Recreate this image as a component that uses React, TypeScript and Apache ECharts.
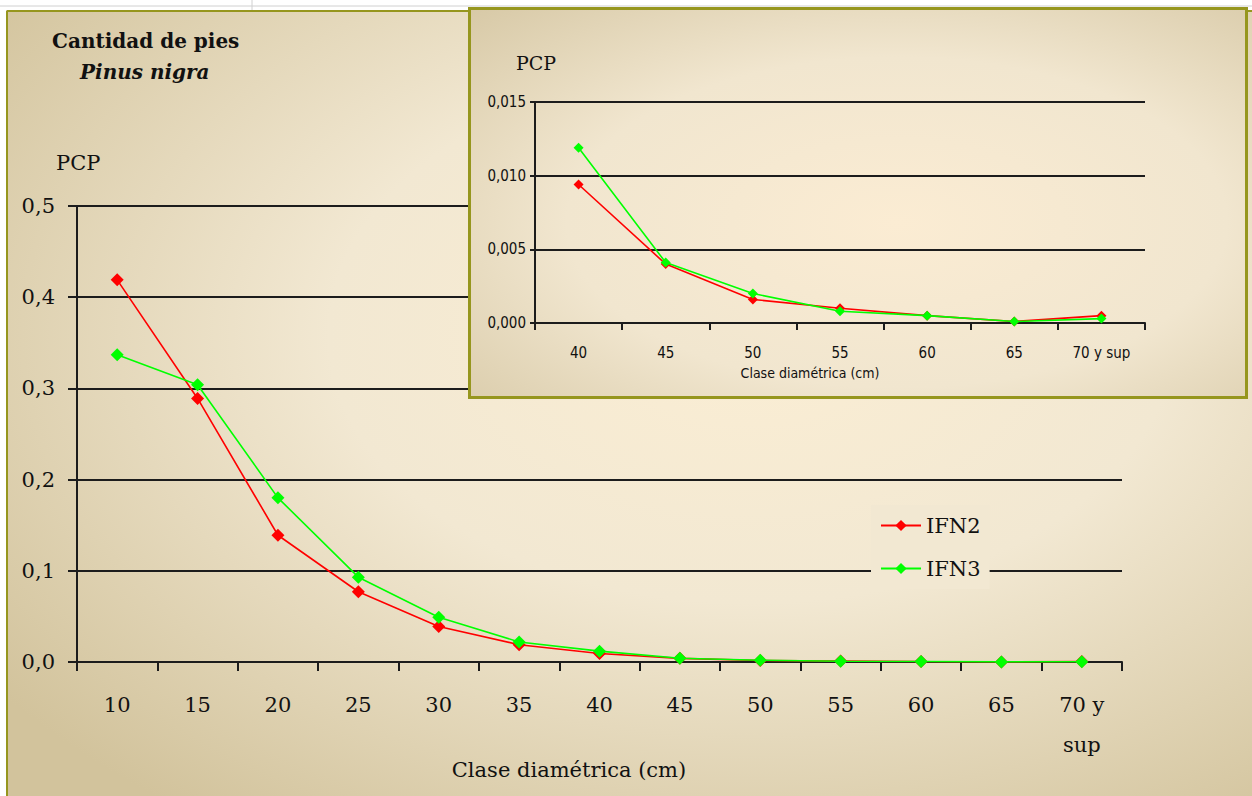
import React, { useEffect, useRef } from "react";
import * as echarts from "echarts";

const mainCategories = ["10", "15", "20", "25", "30", "35", "40", "45", "50", "55", "60", "65", "70 y sup"];
const ifn2Values = [0.419, 0.289, 0.139, 0.077, 0.039, 0.019, 0.0094, 0.004, 0.0016, 0.001, 0.0005, 0.0001, 0.0005];
const ifn3Values = [0.337, 0.304, 0.18, 0.093, 0.049, 0.022, 0.0119, 0.0041, 0.002, 0.0008, 0.0005, 0.0001, 0.0003];
const insetStartIndex = 6; // inset shows classes 40 .. 70 y sup
const insetCategories = mainCategories.slice(insetStartIndex);
const mainYTicks = { min: 0, max: 0.5, interval: 0.1 };
const insetYTicks = { min: 0, max: 0.015, interval: 0.005 };

const SERIF = "'DejaVu Serif', 'Liberation Serif', serif";
const NARROW = "'Liberation Sans Narrow', 'DejaVu Sans Condensed', 'Arial Narrow', 'Liberation Sans', sans-serif";
const OLIVE = "#96961e";
const RED = "#ff0000";
const GREEN = "#00ff00";
const GRID = "#1c1c1c";

export default function App() {
  const ref = useRef<HTMLDivElement>(null);

  useEffect(() => {
    if (!ref.current) return;
    const chart = echarts.init(ref.current, null, { renderer: "svg" });

    const bgGradient = {
      type: "radial",
      x: 0.6,
      y: 0.42,
      r: 0.75,
      colorStops: [
        { offset: 0, color: "#fbeed4" },
        { offset: 0.45, color: "#f2e8d2" },
        { offset: 1, color: "#d2c39c" },
      ],
    };
    const insetGradient = {
      type: "radial",
      x: 0.55,
      y: 0.55,
      r: 0.85,
      colorStops: [
        { offset: 0, color: "#fbecd3" },
        { offset: 0.5, color: "#f1e6cf" },
        { offset: 1, color: "#d2c39e" },
      ],
    };

    const commaFmt = (digits: number) => (v: number) => v.toFixed(digits).replace(".", ",");

    const option: any = {
      animation: false,
      backgroundColor: bgGradient,
      title: [
        {
          text: "Cantidad de pies",
          left: 52,
          top: 31,
          padding: 0,
          textStyle: { fontFamily: SERIF, fontSize: 20, fontWeight: "bold", color: "#111" },
        },
        {
          text: "Pinus nigra",
          left: 80,
          top: 62,
          padding: 0,
          textStyle: { fontFamily: SERIF, fontSize: 20, fontWeight: "bold", fontStyle: "italic", color: "#111" },
        },
      ],
      legend: {
        data: ["IFN2", "IFN3"],
        orient: "vertical",
        left: 871,
        top: 505,
        padding: [10, 9, 10, 9],
        itemWidth: 40,
        itemHeight: 14,
        itemGap: 22,
        backgroundColor: "#f2e8d2",
        textStyle: { fontFamily: SERIF, fontSize: 21, color: "#111", lineHeight: 21 },
      },
      grid: [
        { left: 77, top: 206, right: 130, bottom: 134 },
        { left: 535, top: 102, right: 107, bottom: 473 },
      ],
      xAxis: [
        {
          type: "category",
          gridIndex: 0,
          data: mainCategories,
          boundaryGap: true,
          axisLine: { lineStyle: { color: GRID, width: 2 } },
          axisTick: { show: true, length: 9, lineStyle: { color: GRID, width: 2 } },
          axisLabel: {
            fontFamily: SERIF,
            fontSize: 21,
            color: "#111",
            lineHeight: 40,
            margin: 23,
            interval: 0,
            formatter: (v: string) => (v === "70 y sup" ? "70 y\nsup" : v),
          },
          splitLine: { show: false },
        },
        {
          type: "category",
          gridIndex: 1,
          data: insetCategories,
          boundaryGap: true,
          z: 60,
          axisLine: { lineStyle: { color: GRID, width: 2 } },
          axisTick: { show: true, length: 7, lineStyle: { color: GRID, width: 2 } },
          axisLabel: { fontFamily: NARROW, fontSize: 15, color: "#111", margin: 22, interval: 0 },
          splitLine: { show: false },
        },
      ],
      yAxis: [
        {
          type: "value",
          gridIndex: 0,
          min: mainYTicks.min,
          max: mainYTicks.max,
          interval: mainYTicks.interval,
          axisLine: { show: true, lineStyle: { color: GRID, width: 2 } },
          axisTick: { show: true, length: 9, lineStyle: { color: GRID, width: 2 } },
          axisLabel: { fontFamily: SERIF, fontSize: 21, color: "#111", margin: 22, formatter: commaFmt(1) },
          splitLine: { show: true, lineStyle: { color: GRID, width: 2 } },
        },
        {
          type: "value",
          gridIndex: 1,
          min: insetYTicks.min,
          max: insetYTicks.max,
          interval: insetYTicks.interval,
          z: 60,
          axisLine: { show: true, lineStyle: { color: GRID, width: 2 } },
          axisTick: { show: true, length: 5, lineStyle: { color: GRID, width: 2 } },
          axisLabel: { fontFamily: NARROW, fontSize: 15, color: "#111", margin: 9, formatter: commaFmt(3) },
          splitLine: { show: true, lineStyle: { color: GRID, width: 2 } },
        },
      ],
      series: [
        {
          name: "IFN2",
          type: "line",
          xAxisIndex: 0,
          yAxisIndex: 0,
          data: ifn2Values,
          symbol: "diamond",
          symbolSize: 13,
          lineStyle: { color: RED, width: 1.6 },
          itemStyle: { color: RED },
          z: 3,
        },
        {
          name: "IFN3",
          type: "line",
          xAxisIndex: 0,
          yAxisIndex: 0,
          data: ifn3Values,
          symbol: "diamond",
          symbolSize: 13,
          lineStyle: { color: GREEN, width: 1.6 },
          itemStyle: { color: GREEN },
          z: 4,
        },
        {
          name: "IFN2",
          type: "line",
          xAxisIndex: 1,
          yAxisIndex: 1,
          data: ifn2Values.slice(insetStartIndex),
          symbol: "diamond",
          symbolSize: 10,
          lineStyle: { color: RED, width: 1.6 },
          itemStyle: { color: RED },
          z: 61,
        },
        {
          name: "IFN3",
          type: "line",
          xAxisIndex: 1,
          yAxisIndex: 1,
          data: ifn3Values.slice(insetStartIndex),
          symbol: "diamond",
          symbolSize: 10,
          lineStyle: { color: GREEN, width: 1.6 },
          itemStyle: { color: GREEN },
          z: 62,
        },
      ],
      graphic: [
        // top white strip and left white strip
        { type: "rect", z: 40, shape: { x: 0, y: 0, width: 1252, height: 10 }, style: { fill: "#ffffff" } },
        { type: "rect", z: 40, shape: { x: 0, y: 0, width: 6, height: 796 }, style: { fill: "#ffffff" } },
        { type: "line", z: 41, shape: { x1: 0, y1: 6, x2: 1252, y2: 6 }, style: { stroke: "#d0d0d0", lineWidth: 1 } },
        { type: "line", z: 41, shape: { x1: 252, y1: 0, x2: 252, y2: 10 }, style: { stroke: "#d0d0d0", lineWidth: 1 } },
        // main frame border
        { type: "line", z: 42, shape: { x1: 7, y1: 11, x2: 1252, y2: 11 }, style: { stroke: OLIVE, lineWidth: 2 } },
        { type: "line", z: 42, shape: { x1: 7, y1: 11, x2: 7, y2: 796 }, style: { stroke: OLIVE, lineWidth: 2 } },
        // inset panel
        {
          type: "rect",
          z: 50,
          shape: { x: 469.5, y: 8.5, width: 777, height: 389 },
          style: { fill: insetGradient, stroke: OLIVE, lineWidth: 3 },
        },
        // axis names
        {
          type: "text",
          z: 45,
          x: 56,
          y: 163,
          style: { text: "PCP", fontFamily: SERIF, fontSize: 21, fill: "#111", verticalAlign: "middle", align: "left" },
        },
        {
          type: "text",
          z: 45,
          x: 569,
          y: 770,
          style: {
            text: "Clase diamétrica (cm)",
            fontFamily: SERIF,
            fontSize: 21,
            fill: "#111",
            verticalAlign: "middle",
            align: "center",
          },
        },
        {
          type: "text",
          z: 70,
          x: 516,
          y: 63,
          style: { text: "PCP", fontFamily: SERIF, fontSize: 19, fill: "#111", verticalAlign: "middle", align: "left" },
        },
        {
          type: "text",
          z: 70,
          x: 810,
          y: 373,
          style: {
            text: "Clase diamétrica (cm)",
            fontFamily: NARROW,
            fontSize: 14,
            fill: "#111",
            verticalAlign: "middle",
            align: "center",
          },
        },
      ],
    };

    chart.setOption(option);
    return () => chart.dispose();
  }, []);

  return (
    <div
      ref={ref}
      style={{ position: "absolute", left: 0, top: 0, width: 1252, height: 796 }}
    />
  );
}
